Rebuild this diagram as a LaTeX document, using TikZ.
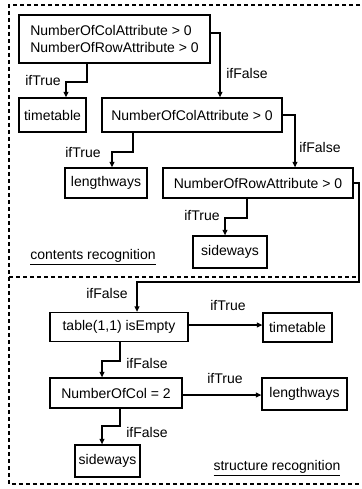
\documentclass[tikz,border=0pt]{standalone}
\usepackage{fontspec}
\setmainfont{Liberation Sans}
\usetikzlibrary{arrows.meta}
\tikzset{
  box/.style={draw, line width=1.3pt, inner sep=0pt, font=\fontsize{14}{16.5}\selectfont},
  lbl/.style={inner sep=0pt, font=\fontsize{14}{16.5}\selectfont},
  flow/.style={line width=1.2pt, -{Triangle[length=5.5pt,width=5pt]}},
  frame/.style={line width=1.3pt, dash pattern=on 4pt off 3pt}
}
\begin{document}
\begin{tikzpicture}[x=1pt,y=-1pt]
\useasboundingbox (0,0) rectangle (361,489);
\draw[frame] (360,5) -- (9,5) -- (9,484) -- (360,484);
\draw[frame] (9,277) -- (356,277);
\node[box, minimum width=191pt, minimum height=48pt, align=left] (c1) at (114.5,39)
  {NumberOfColAttribute > 0\\NumberOfRowAttribute > 0};
\node[box, minimum width=67pt, minimum height=34pt] (tt1) at (52.5,115) {timetable};
\node[box, minimum width=180pt, minimum height=34pt] (c2) at (192,115) {NumberOfColAttribute > 0};
\node[box, minimum width=82pt, minimum height=30pt] (lw1) at (106,183) {lengthways};
\node[box, minimum width=190pt, minimum height=30pt] (c3) at (258,183) {NumberOfRowAttribute > 0};
\node[box, minimum width=74pt, minimum height=32pt] (sw1) at (230,252) {sideways};
\node[box, minimum width=138pt, minimum height=29pt] (c4) at (119,327) {table(1,1) isEmpty};
\node[box, minimum width=69pt, minimum height=29pt] (tt2) at (297.5,327.5) {timetable};
\node[box, minimum width=132pt, minimum height=30pt] (c5) at (116,393) {NumberOfCol = 2};
\node[box, minimum width=85pt, minimum height=32pt] (lw2) at (304.5,394) {lengthways};
\node[box, minimum width=65pt, minimum height=32pt] (sw2) at (107.5,461) {sideways};
\node[lbl] (contents) at (93,257) {\underline{contents recognition}};
\node[lbl] (structure) at (277,468) {\underline{structure recognition}};
\coordinate (a1) at (87,82); \coordinate (a2) at (66,82);
\draw[flow] (c1.south -| a1) |- (a2) -- (tt1.north -| a2);
\coordinate (b1) at (220,33);
\draw[flow] (c1.east |- b1) -| (c2.north -| b1);
\coordinate (a3) at (133,152); \coordinate (a4) at (112,152);
\draw[flow] (c2.south -| a3) |- (a4) -- (lw1.north -| a4);
\coordinate (b2) at (295,115);
\draw[flow] (c2.east |- b2) -| (c3.north -| b2);
\coordinate (a5) at (247,218); \coordinate (a6) at (225,218);
\draw[flow] (c3.south -| a5) |- (a6) -- (sw1.north -| a6);
\coordinate (e1) at (359,183); \coordinate (e2) at (137,282);
\draw[flow] (c3.east |- e1) -- (e1) |- (e2) -- (c4.north -| e2);
\draw[flow] (c4.east |- 0,325) -- (tt2.west |- 0,325);
\coordinate (a7) at (120,361); \coordinate (a8) at (102,361);
\draw[flow] (c4.south -| a7) |- (a8) -- (c5.north -| a8);
\draw[flow] (c5.east |- 0,395) -- (lw2.west |- 0,395);
\coordinate (a9) at (120,426); \coordinate (a10) at (102,426);
\draw[flow] (c5.south -| a9) |- (a10) -- (sw2.north -| a10);
\node[lbl] (t1) at (43,80) {ifTrue};
\node[lbl] (f1) at (247,73) {ifFalse};
\node[lbl] (t2) at (83,152) {ifTrue};
\node[lbl] (f2) at (320,147) {ifFalse};
\node[lbl] (t3) at (202,215) {ifTrue};
\node[lbl] (f3) at (107,293) {ifFalse};
\node[lbl] (t4) at (228,305) {ifTrue};
\node[lbl] (f4) at (147,363) {ifFalse};
\node[lbl] (t5) at (225,378) {ifTrue};
\node[lbl] (f5) at (147,432) {ifFalse};
\end{tikzpicture}
\end{document}
